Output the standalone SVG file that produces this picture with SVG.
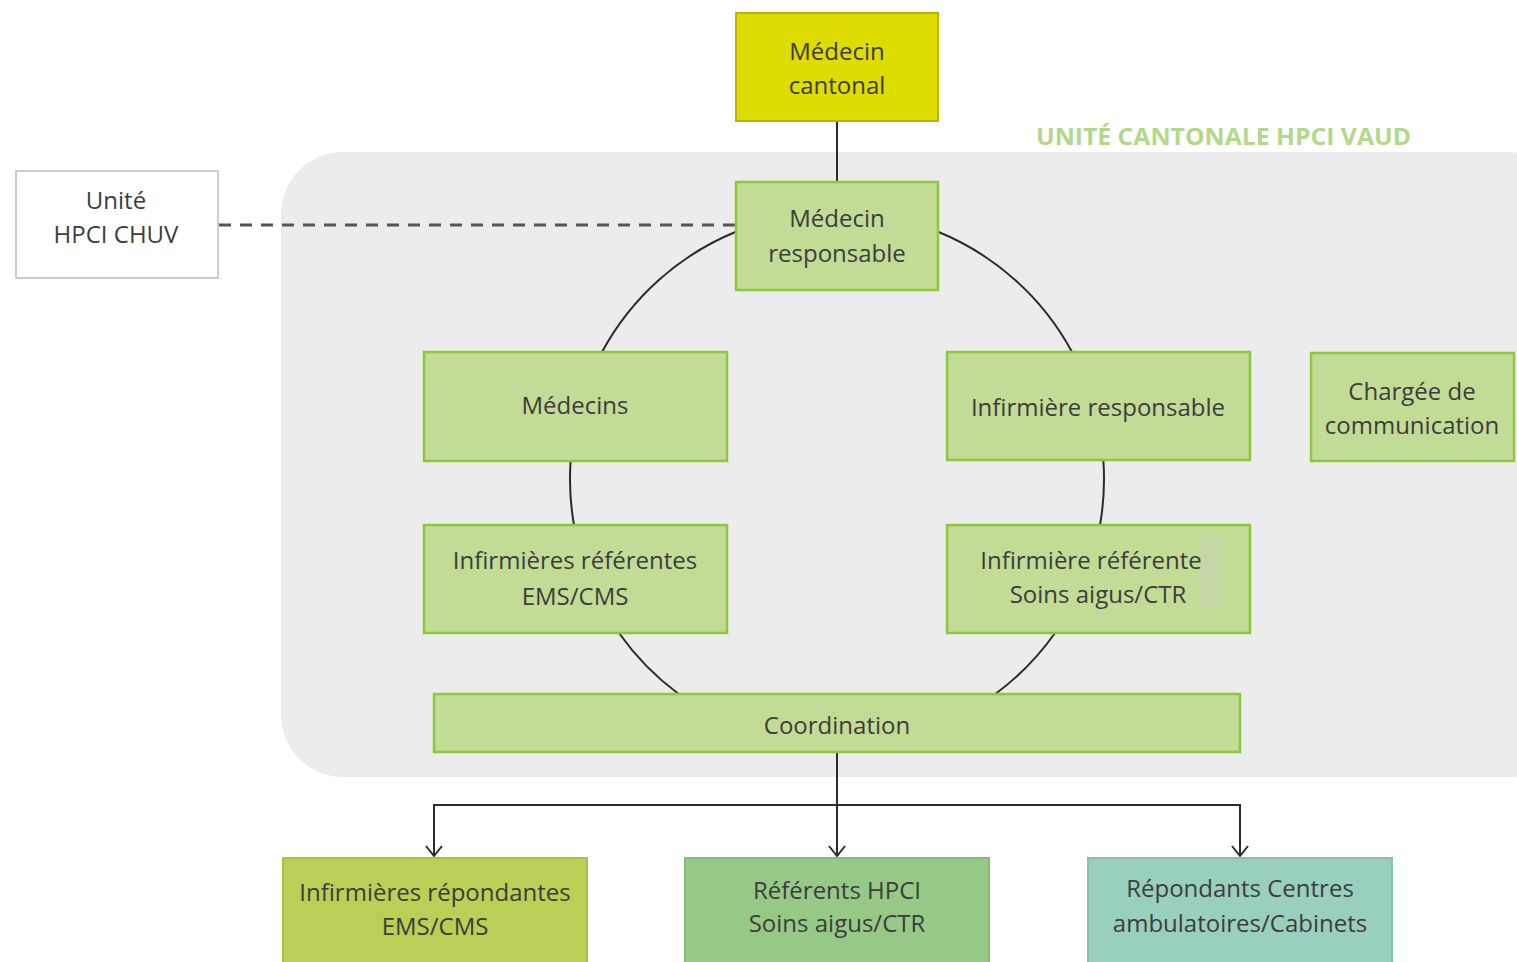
<svg xmlns="http://www.w3.org/2000/svg" width="1517" height="962" viewBox="0 0 1517 962">
<style>
text{font-family:"Open Sans","Noto Sans","Liberation Sans",sans-serif;font-size:24px;fill:#3d3d3d;text-anchor:middle}
.g{fill:#c2db95;stroke:#8ec63c;stroke-width:2.5}
.c{fill:none;stroke:#2b2b2b;stroke-width:2}
.a{marker-end:url(#arr)}
.title{font-weight:bold;fill:#b3d88b;font-size:24px;text-anchor:start}
</style>
<defs>
<marker id="arr" viewBox="0 0 20 14" refX="10" refY="12" markerWidth="20" markerHeight="14" markerUnits="userSpaceOnUse" orient="0">
<polyline points="2,2 10,12 18,2" fill="none" stroke="#2b2b2b" stroke-width="2"/>
</marker>
</defs>
<rect x="0" y="0" width="1517" height="962" fill="#ffffff"/>
<rect id="zone" x="281" y="152" width="1290" height="625" rx="62" fill="#ececec"/>
<text class="title" x="1036" y="145" textLength="375" lengthAdjust="spacingAndGlyphs">UNITÉ CANTONALE HPCI VAUD</text>

<g id="connectors">
<line class="c" x1="837" y1="121" x2="837" y2="182"/>
<line x1="219" y1="225" x2="736" y2="225" stroke="#555" stroke-width="3" stroke-dasharray="12 9"/>
<path class="c" d="M736 231.8 A267 267 0 0 0 602 352"/>
<path class="c" d="M938 231.8 A267 267 0 0 1 1072 352"/>
<path class="c" d="M570.6 461 A267 267 0 0 0 574 525"/>
<path class="c" d="M1103.4 461 A267 267 0 0 1 1100 525"/>
<path class="c" d="M619 633 A267 267 0 0 0 678.7 694"/>
<path class="c" d="M1055 633 A267 267 0 0 1 995.3 694"/>
<line class="c a" x1="837" y1="752" x2="837" y2="856"/>
<line class="c" x1="434" y1="805" x2="1240" y2="805"/>
<line class="c a" x1="434" y1="804" x2="434" y2="856"/>
<line class="c a" x1="1240" y1="804" x2="1240" y2="856"/>
</g>

<g id="medecin-cantonal">
<rect x="736" y="13" width="202" height="108" fill="#dedc00" stroke="#b8b400" stroke-width="2"/>
<text x="837" y="60">Médecin</text>
<text x="837" y="94">cantonal</text>
</g>
<g id="unite-hpci-chuv">
<rect x="16" y="171" width="202" height="107" fill="#ffffff" stroke="#cccccc" stroke-width="2"/>
<text x="116" y="209">Unité</text>
<text x="116" y="243">HPCI CHUV</text>
</g>
<g id="medecin-responsable">
<rect class="g" x="736" y="182" width="202" height="108"/>
<text x="837" y="227">Médecin</text>
<text x="837" y="262">responsable</text>
</g>
<g id="medecins">
<rect class="g" x="424" y="352" width="303" height="109"/>
<text x="575" y="414">Médecins</text>
</g>
<g id="infirmiere-responsable">
<rect class="g" x="947" y="352" width="303" height="108"/>
<text x="1098" y="416">Infirmière responsable</text>
</g>
<g id="chargee-communication">
<rect class="g" x="1311" y="353" width="203" height="108"/>
<text x="1412" y="400">Chargée de</text>
<text x="1412" y="434">communication</text>
</g>
<g id="infirmieres-referentes">
<rect class="g" x="424" y="525" width="303" height="108"/>
<text x="575" y="569">Infirmières référentes</text>
<text x="575" y="605">EMS/CMS</text>
</g>
<g id="infirmiere-referente">
<rect class="g" x="947" y="525" width="303" height="108"/>
<rect x="1200" y="537" width="22" height="70" fill="#c6d7a6"/>
<text x="1091" y="569">Infirmière référente</text>
<text x="1098" y="603">Soins aigus/CTR</text>
</g>
<g id="coordination">
<rect class="g" x="434" y="694" width="806" height="58"/>
<text x="837" y="734">Coordination</text>
</g>
<g id="infirmieres-repondantes">
<rect x="283" y="858" width="304" height="110" fill="#b9cf55" stroke="#a8c040" stroke-width="2"/>
<text x="435" y="901">Infirmières répondantes</text>
<text x="435" y="935">EMS/CMS</text>
</g>
<g id="referents-hpci">
<rect x="685" y="858" width="304" height="110" fill="#96c986" stroke="#86bb76" stroke-width="2"/>
<text x="837" y="899">Référents HPCI</text>
<text x="837" y="932">Soins aigus/CTR</text>
</g>
<g id="repondants-centres">
<rect x="1088" y="858" width="304" height="110" fill="#98cfbd" stroke="#88c0ad" stroke-width="2"/>
<text x="1240" y="897">Répondants Centres</text>
<text x="1240" y="932">ambulatoires/Cabinets</text>
</g>
</svg>
